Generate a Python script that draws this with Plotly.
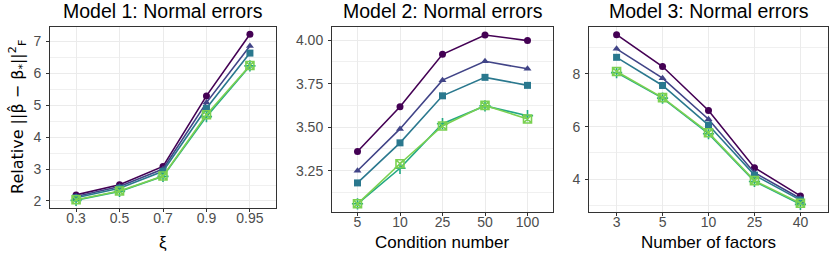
import plotly.graph_objects as go

W, H = 830, 254

series_names = ["Method 1", "Method 2", "Method 3", "Method 4", "Method 5"]
colors = ["#440154", "#414487", "#2A788E", "#22A884", "#7AD151"]
symbols = ["circle", "triangle-up", "square", "cross-thin-open", "square-x-open"]

x1 = ["0.3", "0.5", "0.7", "0.9", "0.95"]
y1 = [
    [2.19, 2.51, 3.08, 5.29, 7.22],
    [2.14, 2.45, 3.00, 5.08, 6.85],
    [2.10, 2.40, 2.93, 4.90, 6.63],
    [2.02, 2.30, 2.77, 4.64, 6.23],
    [2.04, 2.31, 2.78, 4.70, 6.24],
]

x2 = ["5", "10", "25", "50", "100"]
y2 = [
    [3.36, 3.617, 3.918, 4.029, 3.997],
    [3.25, 3.49, 3.77, 3.878, 3.835],
    [3.18, 3.41, 3.68, 3.786, 3.74],
    [3.06, 3.264, 3.52, 3.622, 3.566],
    [3.06, 3.29, 3.507, 3.625, 3.547],
]

x3 = ["3", "5", "10", "25", "40"]
y3 = [
    [9.49, 8.28, 6.61, 4.44, 3.37],
    [8.95, 7.84, 6.28, 4.25, 3.27],
    [8.63, 7.56, 6.06, 4.16, 3.21],
    [8.05, 7.08, 5.73, 3.92, 3.05],
    [8.09, 7.10, 5.77, 3.95, 3.09],
]

titles = ["Model 1: Normal errors", "Model 2: Normal errors", "Model 3: Normal errors"]
xtitles = ["ξ", "Condition number", "Number of factors"]
ytitle = "Relative ||β\u0302 − β<sub>*</sub>||<sup>2</sup><sub>F</sub>"

FONT = "Liberation Sans, Arial, sans-serif"

fig = go.Figure()

panels = [(x1, y1, "x", "y"), (x2, y2, "x2", "y2"), (x3, y3, "x3", "y3")]
for xs, ys, xa, ya in panels:
    for i, name in enumerate(series_names):
        fig.add_trace(go.Scatter(
            x=xs, y=ys[i], name=name, mode="lines+markers",
            xaxis=xa, yaxis=ya, showlegend=False,
            line=dict(color=colors[i], width=1.6),
            marker=dict(symbol=symbols[i], size=7 if i < 3 else 8, color=colors[i],
                        line=dict(color=colors[i], width=1.6 if i >= 3 else 0)),
        ))

# pixel boxes (left, right, top, bottom)
boxes = [(50, 276, 27, 208), (332, 553, 27, 212), (589, 828, 27, 212)]
yranges = [[1.78, 7.447], [3.013, 4.075], [2.76, 9.78]]
ytickvals = [[2, 3, 4, 5, 6, 7], [3.25, 3.5, 3.75, 4.0], [4, 6, 8]]
yticktext = [["2", "3", "4", "5", "6", "7"], ["3.25", "3.50", "3.75", "4.00"], ["4", "6", "8"]]
yminor = [0.5, 0.125, 1.0]

axis_common = dict(
    showline=True, mirror=True, linecolor="#333333", linewidth=1,
    ticks="outside", ticklen=3, tickcolor="#333333", tickwidth=1,
    gridcolor="#EBEBEB", gridwidth=1, zeroline=False, automargin=False,
    tickfont=dict(family=FONT, size=14, color="#4D4D4D"),
)

layout = dict(
    width=W, height=H, margin=dict(l=0, r=0, t=0, b=0, autoexpand=False),
    paper_bgcolor="white", plot_bgcolor="white", showlegend=False,
)
annotations = []
for k, (l, r, t, b) in enumerate(boxes):
    sfx = "" if k == 0 else str(k + 1)
    layout["xaxis" + sfx] = dict(
        domain=[l / W, r / W], anchor="y" + sfx, type="category",
        range=[-0.6, 4.6], ticklabelstandoff=-6, **axis_common)
    layout["yaxis" + sfx] = dict(
        domain=[1 - b / H, 1 - t / H], anchor="x" + sfx, range=yranges[k],
        tickvals=ytickvals[k], ticktext=yticktext[k], ticklabelstandoff=2,
        minor=dict(dtick=yminor[k], tick0=0, showgrid=True, gridcolor="#F0F0F0", gridwidth=0.6),
        **axis_common)
    annotations.append(dict(
        text=titles[k], x=(l + r) / 2 / W, y=1 - 11 / H, xref="paper", yref="paper",
        xanchor="center", yanchor="middle", showarrow=False,
        font=dict(family=FONT, size=19.5, color="black")))
    annotations.append(dict(
        text=xtitles[k], x=(l + r) / 2 / W, y=1 - 242 / H, xref="paper", yref="paper",
        xanchor="center", yanchor="middle", showarrow=False,
        font=dict(family=FONT, size=17, color="black")))

annotations.append(dict(
    text=ytitle, x=17 / W, y=1 - 117 / H, xref="paper", yref="paper",
    xanchor="center", yanchor="middle", showarrow=False, textangle=-90,
    font=dict(family="DejaVu Sans, " + FONT, size=16, color="black")))

layout["annotations"] = annotations
fig.update_layout(**layout)
fig.write_html(
    "out.html",
    config={"displayModeBar": False},
    post_script="document.body.style.margin='0';document.body.style.overflow='hidden';",
)
